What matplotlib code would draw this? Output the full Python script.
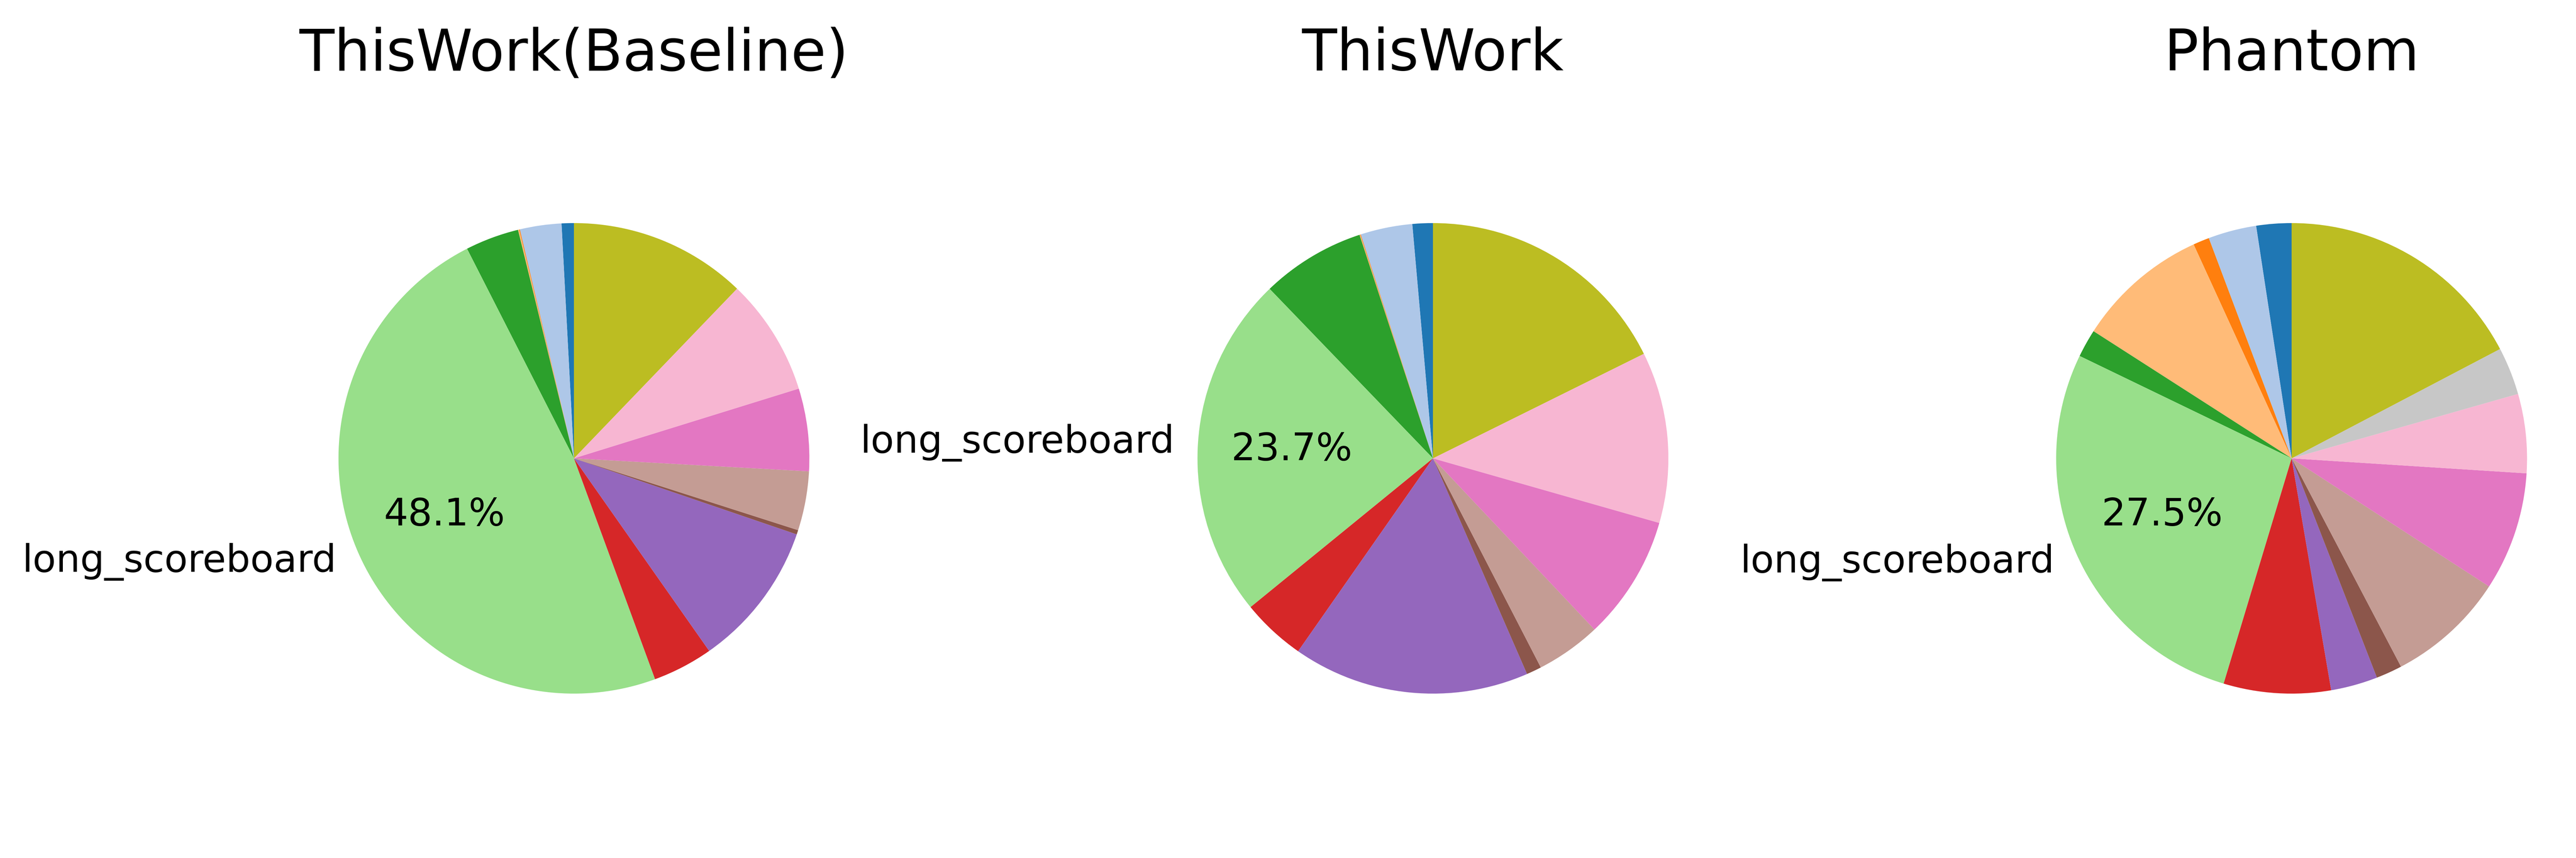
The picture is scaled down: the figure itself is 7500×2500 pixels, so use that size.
import matplotlib
matplotlib.use("Agg")
import matplotlib.pyplot as plt
import numpy as np

categories = ["barrier", "branch_resolving", "dispatch_stall", "drain", "lg_throttle",
              "long_scoreboard", "math_pipe_throttle", "membar", "mio_throttle", "misc",
              "no_instruction", "not_selected", "selected", "short_scoreboard", "sleeping",
              "tex_throttle", "wait"]

titles = ["ThisWork(Baseline)", "ThisWork", "Phantom"]

baseline_vals = [0.84, 2.85, 0.05, 0.08, 3.68, 48.1, 4.14, 0.0, 10.02, 0.0,
                 0.3, 4.06, 5.67, 8.03, 0.0, 0.0, 12.18]
thiswork_vals = [1.40, 3.56, 0.04, 0.05, 7.15, 23.7, 4.40, 0.0, 16.25, 0.0,
                 1.03, 4.46, 8.54, 11.76, 0.0, 0.0, 17.67]
phantom_vals = [2.41, 3.31, 1.11, 9.08, 1.92, 27.5, 7.35, 0.0, 3.21, 0.0,
                1.79, 8.14, 8.15, 5.43, 0.0, 3.28, 17.30]

all_vals = [baseline_vals, thiswork_vals, phantom_vals]

colors = [plt.cm.tab20(i % 20) for i in range(len(categories))]

W, H = 7500, 2500
fig = plt.figure(figsize=(15, 5), dpi=500)

centers_x = [1671, 4172, 6672]
center_y = 1335.5
radius_px = 685.5
box = 2 * 1.25 * radius_px

for cx, title, vals in zip(centers_x, titles, all_vals):
    ax = fig.add_axes([(cx - box / 2) / W, 1 - (center_y + box / 2) / H, box / W, box / H])
    total = sum(vals)
    labels = [c if v / total * 100 > 20 else "" for c, v in zip(categories, vals)]
    ax.pie(vals, labels=labels, colors=colors, startangle=90,
           autopct=lambda p: f"{p:.1f}%" if p > 20 else "",
           textprops={"fontsize": 16})
    ax.set_xlim(-1.25, 1.25)
    ax.set_ylim(-1.25, 1.25)
    ax.set_aspect("equal")
    ax.set_title(title, fontsize=24, pad=39.4)

fig.savefig("out.png", dpi=500)
